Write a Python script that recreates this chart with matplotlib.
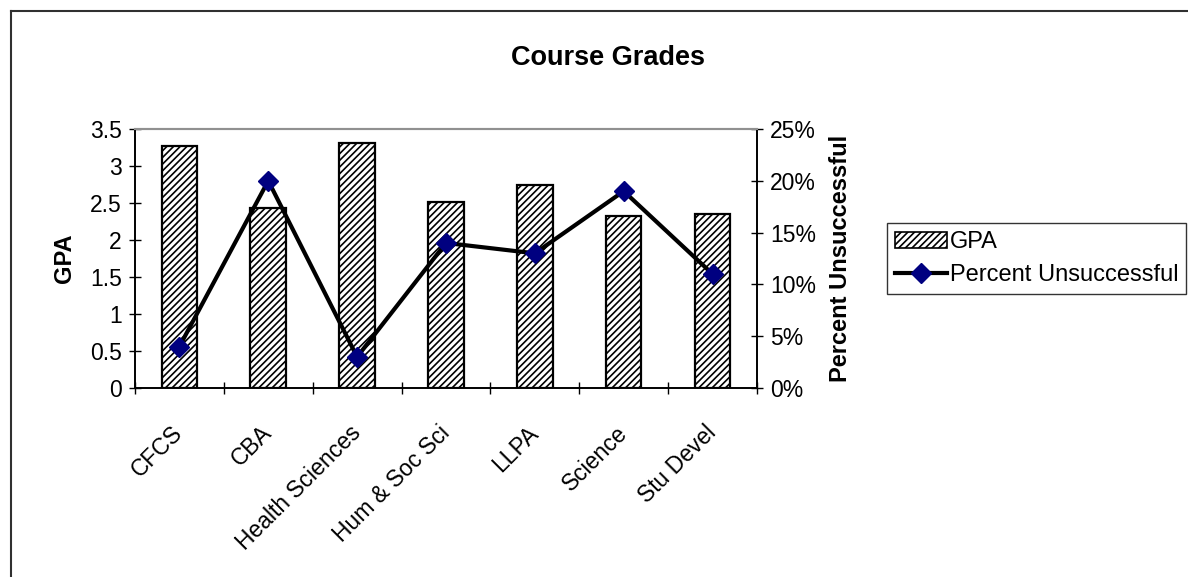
import numpy as np
import matplotlib.pyplot as plt
from matplotlib.patches import Patch
from matplotlib.lines import Line2D
from matplotlib.ticker import PercentFormatter

plt.rcParams['font.family'] = ['Liberation Sans', 'DejaVu Sans']
plt.rcParams['hatch.linewidth'] = 1.2

# data
colleges = ['CFCS', 'CBA', 'Health Sciences', 'Hum & Soc Sci', 'LLPA', 'Science', 'Stu Devel']
gpa = [3.27, 2.43, 3.31, 2.52, 2.75, 2.33, 2.35]
pct_unsuccessful = [4, 20, 3, 14, 13, 19, 11]

fig = plt.figure(figsize=(11.88, 5.77), dpi=100)
ax = fig.add_axes([0.1136, 0.3276, 0.5236, 0.4488])
x = np.arange(len(colleges))

ax.bar(x, gpa, width=0.4, color='white', edgecolor='black', linewidth=1.6,
       hatch='/////', zorder=2)
ax.set_xlim(-0.5, len(colleges) - 0.5)
ax.set_ylim(0, 3.5)
ax.set_yticks(np.arange(0, 3.51, 0.5))
ax.set_yticklabels(['0', '0.5', '1', '1.5', '2', '2.5', '3', '3.5'])
ax.set_xticks(np.arange(-0.5, len(colleges), 1.0))
ax.set_xticklabels([])
ax.set_xticks(x, minor=True)
ax.set_xticklabels(colleges, minor=True, rotation=45, ha='right', va='center',
                   rotation_mode='anchor')
ax.tick_params(axis='x', which='minor', length=0, labelsize=16.5, pad=30)
ax.tick_params(axis='x', which='major', direction='inout', length=9, width=1)
ax.tick_params(axis='y', direction='inout', length=9, width=1, labelsize=16.5, pad=5)
ax.set_ylabel('GPA', fontsize=17, fontweight='bold', labelpad=10)

ax2 = ax.twinx()
ax2.plot(x, pct_unsuccessful, color='black', linewidth=3, zorder=3)
ax2.plot(x, pct_unsuccessful, linestyle='none', marker='D', markersize=10,
         color='#000080', zorder=4)
ax2.set_ylim(0, 25)
ax2.set_yticks(np.arange(0, 26, 5))
ax2.yaxis.set_major_formatter(PercentFormatter(decimals=0))
ax2.tick_params(axis='y', direction='inout', length=9, width=1, labelsize=16.5, pad=5)
ax2.set_ylabel('Percent Unsuccessful', fontsize=17, fontweight='bold', labelpad=9)

for a in (ax, ax2):
    a.spines['top'].set_color('#909090')
    a.spines['top'].set_linewidth(1.5)
    for s in ('left', 'right', 'bottom'):
        a.spines[s].set_linewidth(1.2)

fig.text(0.512, 0.9, 'Course Grades', ha='center', va='center',
         fontsize=19.5, fontweight='bold')

handles = [Patch(facecolor='white', edgecolor='black', hatch='/////', linewidth=1.2),
           Line2D([0], [0], color='black', linewidth=3, marker='D',
                  markersize=10, markerfacecolor='#000080', markeredgecolor='#000080')]
leg = fig.legend(handles, ['GPA', 'Percent Unsuccessful'],
                 loc='upper left', bbox_to_anchor=(887 / 1188, 1 - 223 / 577),
                 fontsize=17, frameon=True, fancybox=False, edgecolor='black',
                 borderaxespad=0, borderpad=0.35, handlelength=2.2,
                 handletextpad=0.1, labelspacing=0.45)
leg.get_frame().set_linewidth(1.0)

# outer chart frame
fig.add_artist(Line2D([11 / 1188, 1], [1 - 11 / 577, 1 - 11 / 577],
                      transform=fig.transFigure, color='#303030', linewidth=1.5))
fig.add_artist(Line2D([11 / 1188, 11 / 1188], [0, 1 - 11 / 577],
                      transform=fig.transFigure, color='#303030', linewidth=1.5))

fig.savefig('out.png', dpi=100)
